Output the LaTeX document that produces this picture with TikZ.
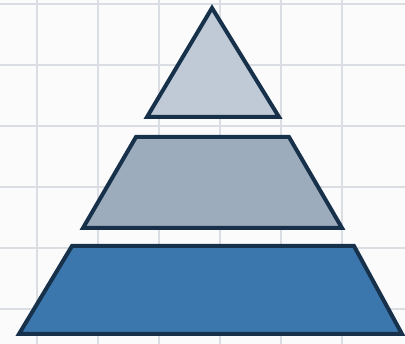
\documentclass[tikz,border=0pt]{standalone}
\usetikzlibrary{backgrounds}
\definecolor{ink}{HTML}{17314B}
\definecolor{paper}{HTML}{FBFBFC}
\definecolor{gridline}{HTML}{DADDE1}
\definecolor{tiertop}{HTML}{BFCAD6}
\definecolor{tiermid}{HTML}{9CACBD}
\definecolor{tierbase}{HTML}{3B77AD}
\tikzset{
  sheet/.style={draw=gridline,line width=1.4pt},
  tier/.style={draw=ink,line width=4pt,line join=miter},
}
\begin{document}
\begin{tikzpicture}[x=1pt,y=-1pt]
  \useasboundingbox (0,0) rectangle (405,344);
  \begin{scope}[on background layer]
    \fill[paper] (0,0) rectangle (405,344);
    % squared paper behind the pyramid
    \foreach \x in {37,98,159,220,281,342}
      \draw[sheet] (\x,0) -- (\x,344);
    \foreach \y in {4,65,126,187,248,309}
      \draw[sheet] (0,\y) -- (405,\y);
  \end{scope}

  % three tiers, widest at the bottom
  \draw[tier,fill=tiertop] (212,8) -- (279,117) -- (147,117) -- cycle;
  \draw[tier,fill=tiermid] (136,137) -- (289,137) -- (342,228) -- (83,228) -- cycle;
  \draw[tier,fill=tierbase] (72,246) -- (354,246) -- (402,334) -- (19,334) -- cycle;
\end{tikzpicture}
\end{document}
